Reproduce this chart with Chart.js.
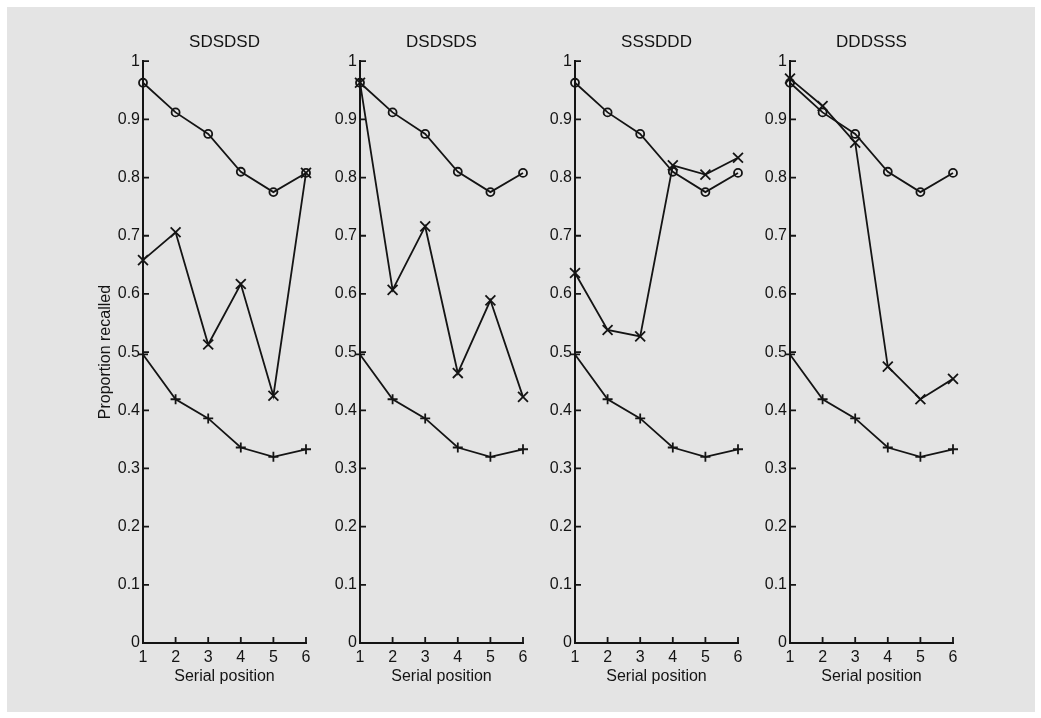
<!DOCTYPE html>
<html>
<head>
<meta charset="utf-8">
<script src="https://cdn.jsdelivr.net/npm/chart.js@4/dist/chart.umd.min.js"></script>
<style>
  html, body { margin: 0; padding: 0; background: #ffffff; width: 1041px; height: 718px; overflow: hidden; }
  #sheet { position: absolute; left: 7px; top: 7px; width: 1028px; height: 705px; background: #e4e4e4; }
  canvas { position: absolute; top: 0; }
</style>
</head>
<body>
<div id="sheet"></div>
<canvas id="panel0" width="244" height="718" style="left:83px"></canvas>
<canvas id="panel1" width="244" height="718" style="left:300px"></canvas>
<canvas id="panel2" width="244" height="718" style="left:515px"></canvas>
<canvas id="panel3" width="244" height="718" style="left:730px"></canvas>
<script>
// Serial positions 1..6 and list conditions (S = similar, D = dissimilar)
const positions = ['1', '2', '3', '4', '5', '6'];
const conditions = ['SDSDSD', 'DSDSDS', 'SSSDDD', 'DDDSSS'];

// Pure similar lists (circles) and pure dissimilar lists (plus), same in every panel
const pureSimilar = [0.963, 0.912, 0.875, 0.810, 0.775, 0.808];
const pureDissimilar = [0.496, 0.419, 0.386, 0.336, 0.320, 0.333];

// Mixed lists (crosses), one per condition
const mixedSDSDSD = [0.658, 0.706, 0.513, 0.617, 0.425, 0.808];
const mixedDSDSDS = [0.963, 0.607, 0.716, 0.464, 0.589, 0.423];
const mixedSSSDDD = [0.636, 0.538, 0.527, 0.821, 0.805, 0.834];
const mixedDDDSSS = [0.970, 0.923, 0.860, 0.475, 0.419, 0.454];
const mixedLists = [mixedSDSDSD, mixedDSDSDS, mixedSSSDDD, mixedDDDSSS];

const yMin = 0, yMax = 1, yStep = 0.1;

const INK = '#141414';
const FONT = '"Liberation Sans", Arial, Helvetica, sans-serif';
Chart.defaults.font.family = FONT;
Chart.defaults.color = INK;

// Short tick marks drawn inward from the left and bottom axis lines
const innerTicks = {
  id: 'innerTicks',
  afterDraw(chart) {
    const { ctx, chartArea, scales } = chart;
    const xs = scales.x, ys = scales.y;
    ctx.save();
    ctx.strokeStyle = INK;
    ctx.lineWidth = 1.8;
    ctx.beginPath();
    ys.ticks.forEach(t => {
      const py = ys.getPixelForValue(t.value);
      ctx.moveTo(chartArea.left, py);
      ctx.lineTo(chartArea.left + 6, py);
    });
    xs.ticks.forEach((t, i) => {
      const px = xs.getPixelForTick(i);
      ctx.moveTo(px, chartArea.bottom);
      ctx.lineTo(px, chartArea.bottom - 6);
    });
    ctx.stroke();
    ctx.restore();
  }
};

function lineSet(values, style, radius) {
  return {
    data: values,
    borderColor: INK,
    borderWidth: 1.8,
    pointStyle: style,
    pointRadius: radius,
    pointHoverRadius: radius,
    pointBorderColor: INK,
    pointBorderWidth: 1.8,
    pointBackgroundColor: 'rgba(0,0,0,0)',
    tension: 0,
    fill: false,
    clip: false
  };
}

conditions.forEach((name, i) => {
  new Chart(document.getElementById('panel' + i), {
    type: 'line',
    data: {
      labels: positions,
      datasets: [
        lineSet(pureSimilar, 'circle', 4),
        lineSet(mixedLists[i], 'crossRot', 7),
        lineSet(pureDissimilar, 'cross', 5)
      ]
    },
    options: {
      responsive: false,
      animation: false,
      events: [],
      layout: { padding: { left: 0, right: 21, top: 0, bottom: 0 } },
      plugins: {
        legend: { display: false },
        tooltip: { enabled: false },
        title: {
          display: true,
          text: name,
          fullSize: false,
          color: INK,
          font: { size: 17, weight: 'normal' },
          padding: { top: 31.8, bottom: 9 }
        }
      },
      scales: {
        x: {
          type: 'category',
          offset: false,
          grid: { display: false, drawTicks: false },
          border: { display: true, color: INK, width: 2 },
          ticks: { font: { size: 16 }, padding: 5, maxRotation: 0, autoSkip: false, color: INK },
          title: {
            display: true,
            text: 'Serial position',
            color: INK,
            font: { size: 16 },
            padding: { top: 0, bottom: 31.4 }
          },
          afterFit(scale) { scale.height = 75; }
        },
        y: {
          type: 'linear',
          min: yMin,
          max: yMax,
          grid: { display: false, drawTicks: false },
          border: { display: true, color: INK, width: 2 },
          ticks: {
            stepSize: yStep,
            font: { size: 16 },
            padding: 3,
            color: INK,
            autoSkip: false,
            callback: v => String(Math.round(v * 10) / 10)
          },
          title: {
            display: i === 0,
            text: 'Proportion recalled',
            color: INK,
            font: { size: 16 },
            padding: { top: 13.4, bottom: 0 }
          },
          afterFit(scale) { scale.width = 60; }
        }
      }
    },
    plugins: [innerTicks]
  });
});
</script>
</body>
</html>
